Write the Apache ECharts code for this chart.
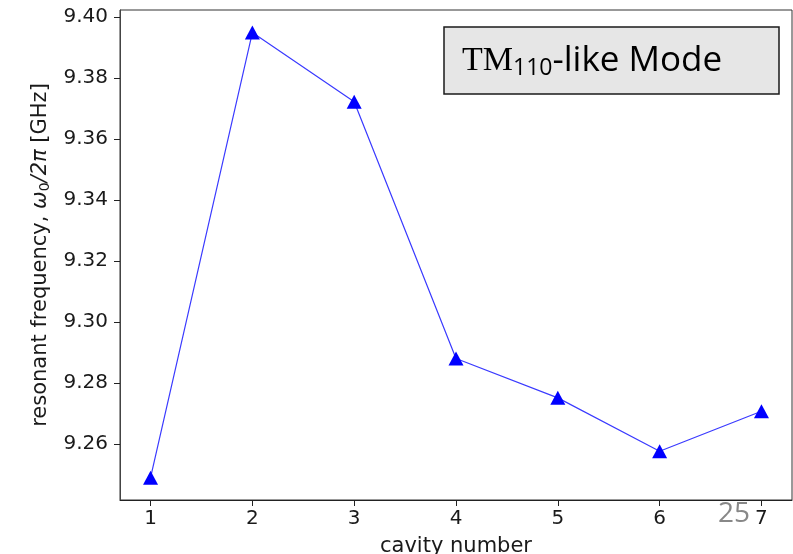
<!DOCTYPE html>
<html>
<head>
<meta charset="utf-8">
<script src="https://cdn.jsdelivr.net/npm/echarts@6/dist/echarts.min.js"></script>
<style>
  html, body { margin: 0; padding: 0; background: #ffffff; }
  #chart { width: 793px; height: 554px; }
</style>
</head>
<body>
<div id="chart"></div>
<script>
// Cavity index and measured resonant frequency (GHz)
const cavities = [1, 2, 3, 4, 5, 6, 7];
const frequencies = [9.2489, 9.3949, 9.3722, 9.2880, 9.2751, 9.2576, 9.2707];
const yTicks = [9.26, 9.28, 9.30, 9.32, 9.34, 9.36, 9.38, 9.40];
const xTicks = [1, 2, 3, 4, 5, 6, 7];

const points = cavities.map((c, i) => [c, frequencies[i]]);
const tickFont = 'DejaVu Sans';

const chart = echarts.init(document.getElementById('chart'), null, { renderer: 'canvas' });
chart.setOption({
  backgroundColor: '#ffffff',
  animation: false,
  grid: {
    left: 120, top: 10, right: 1, bottom: 54,
    outerBoundsMode: 'none',
    containLabel: false,
    show: true, borderColor: '#333333', borderWidth: 1, backgroundColor: 'transparent'
  },
  xAxis: {
    type: 'value',
    min: 0.7, max: 7.3,
    name: 'cavity number',
    nameLocation: 'middle',
    nameGap: 36,
    nameTextStyle: { fontFamily: tickFont, fontSize: 21, color: '#1a1a1a' },
    axisLine: { show: true, lineStyle: { color: '#222222', width: 1 } },
    axisTick: { show: true, length: 6, customValues: xTicks, lineStyle: { color: '#222222' } },
    axisLabel: {
      customValues: xTicks, margin: 9,
      fontFamily: tickFont, fontSize: 20, color: '#1a1a1a'
    },
    splitLine: { show: false }
  },
  yAxis: {
    type: 'value',
    min: 9.2416, max: 9.4023,
    name: 'resonant frequency, {i|ω}{s|0}{i|/2π} [GHz]',
    nameLocation: 'middle',
    nameGap: 67,
    nameTextStyle: {
      fontFamily: tickFont, fontSize: 21, color: '#1a1a1a',
      rich: {
        i: { fontFamily: tickFont, fontSize: 21, fontStyle: 'italic', color: '#1a1a1a' },
        s: { fontFamily: tickFont, fontSize: 14, color: '#1a1a1a', padding: [10, 0, 0, 0] }
      }
    },
    axisLine: { show: true, lineStyle: { color: '#444444', width: 1 } },
    axisTick: { show: true, length: 6, customValues: yTicks, lineStyle: { color: '#222222' } },
    axisLabel: {
      customValues: yTicks, margin: 12,
      fontFamily: tickFont, fontSize: 20, color: '#1a1a1a',
      formatter: v => v.toFixed(2)
    },
    splitLine: { show: false }
  },
  series: [{
    type: 'line',
    data: points,
    symbol: 'triangle',
    symbolSize: [15, 14],
    itemStyle: { color: '#0000ff' },
    lineStyle: { color: '#3a3aff', width: 1.2 },
    z: 3
  }],
  graphic: [
    {
      type: 'rect',
      shape: { x: 444, y: 27, width: 335, height: 67 },
      style: { fill: '#e6e6e6', stroke: '#1a1a1a', lineWidth: 1.5 },
      z: 10
    },
    {
      type: 'text',
      x: 462, y: 61,
      style: {
        text: '{t|TM}{s|110}{r|-like Mode}',
        verticalAlign: 'middle',
        rich: {
          t: { fontFamily: 'Liberation Serif', fontSize: 34, fill: '#000000' },
          s: { fontFamily: 'Open Sans', fontSize: 23, fill: '#000000', padding: [15, 0, 0, 0] },
          r: { fontFamily: 'Open Sans', fontSize: 35, fill: '#000000' }
        }
      },
      z: 11
    },
    {
      type: 'text',
      x: 718, y: 514,
      style: {
        text: '25',
        fontFamily: 'Open Sans', fontSize: 28, fill: '#888888',
        verticalAlign: 'middle'
      },
      z: 11
    }
  ]
});
</script>
</body>
</html>
